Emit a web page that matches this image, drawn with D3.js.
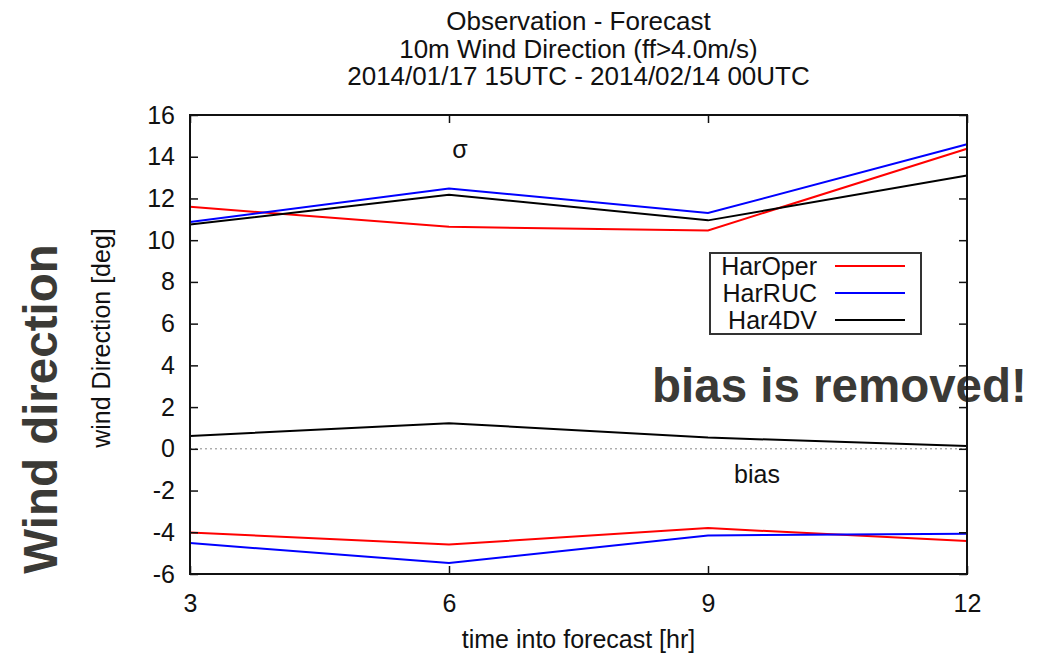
<!DOCTYPE html>
<html>
<head>
<meta charset="utf-8">
<script src="https://cdn.jsdelivr.net/npm/d3@7"></script>
<style>
  html, body { margin: 0; padding: 0; background: #fff; }
  svg { display: block; }
  text { font-family: "Liberation Sans", Arial, Helvetica, sans-serif; }
</style>
</head>
<body>
<svg id="chart" width="1041" height="658"></svg>
<script>
// Forecast lead times [hr]
const hours = [3, 6, 9, 12];
const xTicks = [3, 6, 9, 12];
const yTicks = [-6, -4, -2, 0, 2, 4, 6, 8, 10, 12, 14, 16];

// Standard deviation of wind direction error [deg]
const sigmaHarOper = [11.60, 10.64, 10.47, 14.38];
const sigmaHarRUC  = [10.87, 12.48, 11.30, 14.60];
const sigmaHar4DV  = [10.75, 12.18, 10.95, 13.10];

// Mean wind direction error (bias) [deg]
const biasHarOper = [-4.01, -4.59, -3.80, -4.42];
const biasHarRUC  = [-4.52, -5.47, -4.15, -4.07];
const biasHar4DV  = [0.62, 1.23, 0.54, 0.13];

const seriesNames  = ["HarOper", "HarRUC", "Har4DV"];
const seriesColors = ["#ff0000", "#0000ff", "#000000"];

const titleLines = [
  "Observation - Forecast",
  "10m Wind Direction (ff>4.0m/s)",
  "2014/01/17 15UTC - 2014/02/14 00UTC"
];

const svg = d3.select("#chart");
const plotLeft = 190, plotRight = 967, plotTop = 115, plotBottom = 574;
const FONT = 25;
const plainInt = d => String(d);   // ASCII hyphen for negatives

const x = d3.scaleLinear().domain([3, 12]).range([plotLeft, plotRight]);
const y = d3.scaleLinear().domain([-6, 16]).range([plotBottom, plotTop]);

// Title
svg.append("g").selectAll("text").data(titleLines).join("text")
  .attr("x", (plotLeft + plotRight) / 2)
  .attr("y", (d, i) => 30 + i * 27.5)
  .attr("text-anchor", "middle")
  .attr("font-size", 26)
  .attr("fill", "#111")
  .text(d => d);

// Overlay annotations behind the frame
svg.append("text")
  .attr("x", 652).attr("y", 402)
  .attr("font-size", 47.5).attr("font-weight", "bold")
  .attr("fill", "#3b3a36")
  .text("bias is removed!");

svg.append("text")
  .attr("transform", "translate(57,409) rotate(-90)")
  .attr("text-anchor", "middle")
  .attr("font-size", 47.5).attr("font-weight", "bold")
  .attr("fill", "#3b3a36")
  .text("Wind direction");

// Zero reference line
svg.append("line")
  .attr("x1", plotLeft).attr("x2", plotRight)
  .attr("y1", y(0)).attr("y2", y(0))
  .attr("stroke", "#888").attr("stroke-width", 1)
  .attr("stroke-dasharray", "2,3");

// Series lines
const line = d3.line().x((d, i) => x(hours[i])).y(d => y(d));
const allSeries = [
  [sigmaHarOper, 0], [sigmaHarRUC, 1], [sigmaHar4DV, 2],
  [biasHarOper, 0], [biasHarRUC, 1], [biasHar4DV, 2]
];
svg.append("g").selectAll("path").data(allSeries).join("path")
  .attr("d", d => line(d[0]))
  .attr("fill", "none")
  .attr("stroke", d => seriesColors[d[1]])
  .attr("stroke-width", 2)
  .attr("stroke-linejoin", "miter");

// Axes with inward ticks on all four sides
function styleAxis(g, hideLabels) {
  g.select(".domain").remove();
  g.selectAll(".tick line").attr("stroke", "#111").attr("stroke-width", 1.5);
  g.selectAll(".tick text").attr("font-size", FONT).attr("fill", "#111")
    .attr("font-family", "\"Liberation Sans\", Arial, sans-serif");
  if (hideLabels) g.selectAll(".tick text").remove();
}
svg.append("g").attr("transform", `translate(${plotLeft},0)`)
  .call(d3.axisLeft(y).tickValues(yTicks).tickSize(-8).tickPadding(15).tickFormat(plainInt))
  .call(g => styleAxis(g, false));
svg.append("g").attr("transform", `translate(${plotRight},0)`)
  .call(d3.axisRight(y).tickValues(yTicks).tickSize(-8))
  .call(g => styleAxis(g, true));
svg.append("g").attr("transform", `translate(0,${plotBottom})`)
  .call(d3.axisBottom(x).tickValues(xTicks).tickSize(-8).tickPadding(20).tickFormat(plainInt))
  .call(g => styleAxis(g, false));
svg.append("g").attr("transform", `translate(0,${plotTop})`)
  .call(d3.axisTop(x).tickValues(xTicks).tickSize(-8))
  .call(g => styleAxis(g, true));

// Plot frame
svg.append("rect")
  .attr("x", plotLeft).attr("y", plotTop)
  .attr("width", plotRight - plotLeft).attr("height", plotBottom - plotTop)
  .attr("fill", "none").attr("stroke", "#111").attr("stroke-width", 2);

// Axis titles
svg.append("text")
  .attr("x", (plotLeft + plotRight) / 2).attr("y", 648)
  .attr("text-anchor", "middle").attr("font-size", FONT).attr("fill", "#111")
  .text("time into forecast [hr]");
svg.append("text")
  .attr("transform", "translate(110,338) rotate(-90)")
  .attr("text-anchor", "middle").attr("font-size", FONT).attr("fill", "#111")
  .text("wind Direction [deg]");

// Panel labels
svg.append("text")
  .attr("x", x(6) + 11).attr("y", 158)
  .attr("text-anchor", "middle").attr("font-size", FONT)
  .attr("font-family", "\"Liberation Serif\", \"DejaVu Serif\", serif")
  .attr("fill", "#111")
  .text("σ");
svg.append("text")
  .attr("x", 757).attr("y", 483)
  .attr("text-anchor", "middle").attr("font-size", FONT).attr("fill", "#111")
  .text("bias");

// Legend
const legend = svg.append("g");
legend.append("rect")
  .attr("x", 710).attr("y", 253).attr("width", 211).attr("height", 81)
  .attr("fill", "#fff").attr("stroke", "#333").attr("stroke-width", 2);
const items = legend.selectAll("g.item").data(seriesNames).join("g").attr("class", "item");
items.append("text")
  .attr("x", 817).attr("y", (d, i) => 275 + i * 27)
  .attr("text-anchor", "end").attr("font-size", FONT).attr("fill", "#111")
  .text(d => d);
items.append("line")
  .attr("x1", 835).attr("x2", 905)
  .attr("y1", (d, i) => 266 + i * 27).attr("y2", (d, i) => 266 + i * 27)
  .attr("stroke", (d, i) => seriesColors[i]).attr("stroke-width", 2);
</script>
</body>
</html>
